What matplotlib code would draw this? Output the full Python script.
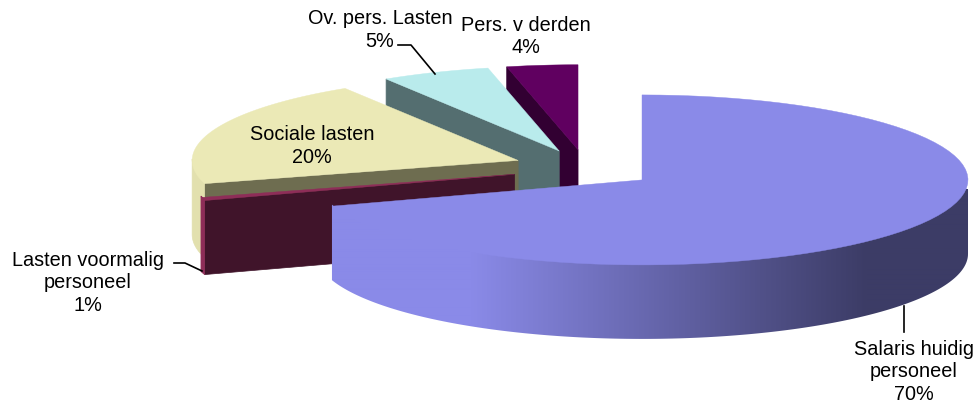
import numpy as np
import matplotlib
matplotlib.use("Agg")
import matplotlib.pyplot as plt
from matplotlib.colors import LinearSegmentedColormap
from matplotlib.patches import Polygon

# waarden
labels = ["Salaris huidig\npersoneel", "Lasten voormalig\npersoneel", "Sociale lasten", "Ov. pers. Lasten", "Pers. v derden"]
values = [70.0, 0.6, 20.49, 5.4, 3.51]
top_colors = ["#8A8AE8", "#8E2D58", "#EBE9B6", "#B9EBEC", "#600060"]
rim_colors = ["#8A8AE8", "#8E2D58", "#E2E0AE", "#9CC5C6", "#4A004A"]
cut_colors = ["#8A8AE8", "#40142A", "#6E6D50", "#546E70", "#320032"]
dark_end = "#3C3C66"

plt.rcParams["font.family"] = ["Liberation Sans", "DejaVu Sans"]

# geometrie van de taart in pixels
cx, cy = 585.7, 169.0
rx, ry = 326, 85
depth = 74
explode = [0.2135, 0.228, 0.222, 0.2135, 0.2135]
explode_ry = [95, 95, 95, 86, 86]


def arc(x0, y0, a1, a2, n=80):
    a = np.radians(np.linspace(a1, a2, n))
    return np.column_stack([x0 + rx * np.sin(a), y0 - ry * np.cos(a)])


fig, ax = plt.subplots(figsize=(9.76, 4.02), dpi=100)
ax.set_position([0, 0, 1, 1])
ax.axis("off")

edges = np.cumsum([0] + values) / sum(values) * 360
slices = []
for i in range(len(values)):
    a1, a2 = edges[i], edges[i + 1]
    mid = np.radians((a1 + a2) / 2)
    x0 = cx + explode[i] * rx * np.sin(mid)
    y0 = cy - explode[i] * explode_ry[i] * np.cos(mid)
    slices.append((i, a1, a2, x0, y0))

# van achter naar voren tekenen
for i, a1, a2, x0, y0 in [slices[k] for k in (4, 3, 2, 1, 0)]:
    base_z = 20 - i * 3
    # snijvlak
    if np.sin(np.radians(a1)) < -1e-6:
        p = arc(x0, y0, a1, a1, 1)[0]
        ax.fill([x0, p[0], p[0], x0], [y0, p[1], p[1] + depth, y0 + depth],
                color=cut_colors[i], lw=0.5, zorder=base_z)
    # buitenrand
    lo, hi = max(a1, 90), min(a2, 270)
    if hi > lo:
        top = arc(x0, y0, lo, hi, 160)
        # bovenkant iets hoger zodat er geen naad met het bovenvlak komt
        rim = np.vstack([top - [0, 1.5], (top + [0, depth])[::-1]])
        if i == 0:
            # kleurverloop van licht naar donker over de breedte
            cmap = LinearSegmentedColormap.from_list(
                "rim", [(0, top_colors[0]), (0.22, top_colors[0]), (0.84, dark_end), (1, dark_end)], N=512)
            grad = np.linspace(0, 1, 640).reshape(1, -1)
            im = ax.imshow(grad, cmap=cmap, extent=[330, 970, 350, 190], aspect="auto",
                           zorder=base_z + 1, interpolation="bilinear")
            im.set_clip_path(Polygon(rim, transform=ax.transData))
        else:
            ax.fill(rim[:, 0], rim[:, 1], color=rim_colors[i], lw=0.5, zorder=base_z + 1)
    # bovenvlak
    outline = np.vstack([[x0, y0], arc(x0, y0, a1, a2)])
    ax.fill(outline[:, 0], outline[:, 1], color=top_colors[i], lw=0.3, zorder=base_z + 2)

ax.set_xlim(0, 976)
ax.set_ylim(402, 0)

# labels
pct = [f"{round(v)}%" for v in values]
label_pos = [(914, 372), (88, 283), (312, 146), (380, 30), (526, 36.5)]
for name, p, (x, y) in zip(labels, pct, label_pos):
    ax.text(x, y, name + "\n" + p, ha="center", va="center", fontsize=14.3,
            color="black", linespacing=1.22, zorder=40)

# aanwijslijnen
ax.plot([398, 411, 435], [46, 46, 75], color="black", lw=1.2, zorder=30)
ax.plot([174, 185, 202], [264, 264, 272], color="black", lw=1.2, zorder=30)
ax.plot([904, 904], [307, 333], color="black", lw=1.2, zorder=30)

fig.savefig("out.png", dpi=100)
